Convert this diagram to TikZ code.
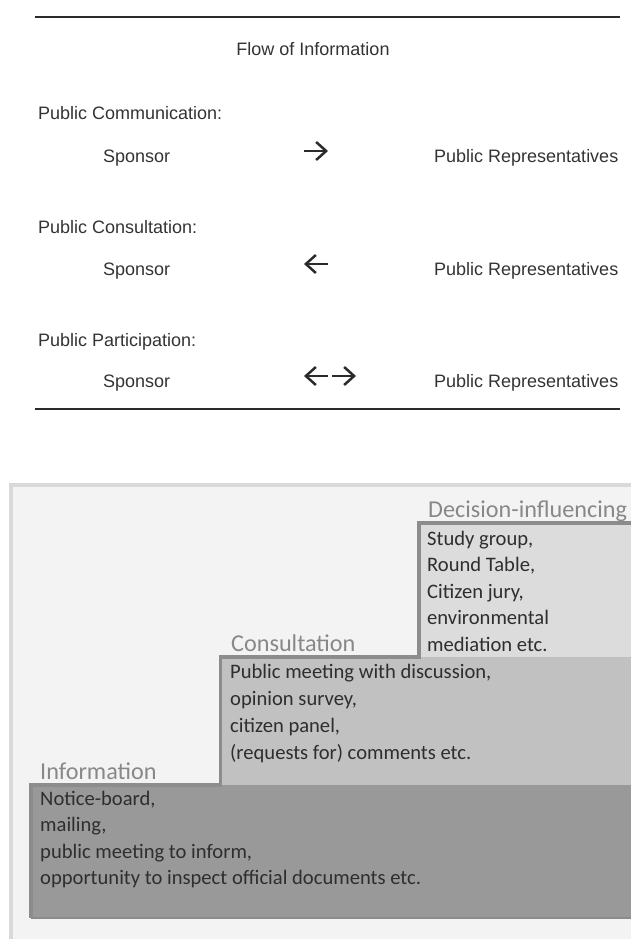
\documentclass[tikz,border=0pt]{standalone}
\usepackage{fontspec}
\setmainfont{Liberation Sans}
\newfontfamily\gillfont{Carlito}
\usetikzlibrary{arrows.meta}
\definecolor{rulegray}{HTML}{2B2B2B}
\definecolor{textgray}{HTML}{333333}
\definecolor{panelfill}{HTML}{F3F3F3}
\definecolor{panelline}{HTML}{D9D9D9}
\definecolor{decfill}{HTML}{DCDCDC}
\definecolor{confill}{HTML}{C1C1C1}
\definecolor{inffill}{HTML}{999999}
\definecolor{stepline}{HTML}{8C8C8C}
\definecolor{labelgray}{HTML}{888888}

\begin{document}
\begin{tikzpicture}[x=1pt,y=-1pt,
	toptext/.style={anchor=base west, inner sep=0pt, text=textgray, font=\fontsize{18}{21}\selectfont},
	steptext/.style={anchor=base west, inner sep=0pt, text=textgray!90!black, font=\gillfont\fontsize{20.6}{24}\selectfont},
	steplabel/.style={anchor=base west, inner sep=0pt, text=labelgray, font=\gillfont\fontsize{24.2}{29}\selectfont},
	flowarrow/.style={line width=2.5pt, rulegray, -{Straight Barb[length=10pt,width=18pt]}},
	toprule/.style={line width=2.5pt, rulegray}]
	\useasboundingbox (0,0) rectangle (631,939);
	% upper table
	\draw[toprule] (35,17) -- (620,17);
	\node[toptext, anchor=base] (flow) at (313,56) {Flow of Information};
	% public communication
	\node[toptext] (comm) at (38,120) {Public Communication:};
	\node[toptext] (spons1) at (103,162) {Sponsor};
	\node[toptext] (repr1) at (434,162) {Public Representatives};
	\coordinate (a1s) at (304,151);
	\coordinate (a1e) at (328,151);
	\draw[flowarrow] (a1s) -- (a1e);
	% public consultation
	\node[toptext] (cons) at (38,233) {Public Consultation:};
	\node[toptext] (spons2) at (103,275) {Sponsor};
	\node[toptext] (repr2) at (434,275) {Public Representatives};
	\coordinate (a2s) at (304,264);
	\coordinate (a2e) at (328,264);
	\draw[flowarrow] (a2e) -- (a2s);
	% public participation
	\node[toptext] (part) at (38,346) {Public Participation:};
	\node[toptext] (spons3) at (103,387) {Sponsor};
	\node[toptext] (repr3) at (434,387) {Public Representatives};
	\coordinate (a3s) at (304,376);
	\coordinate (a3m) at (328,376);
	\coordinate (a3n) at (332,376);
	\coordinate (a3e) at (356,376);
	\draw[flowarrow] (a3m) -- (a3s);
	\draw[flowarrow] (a3n) -- (a3e);
	\draw[toprule] (35,409) -- (620,409);
	% lower panel
	\fill[panelfill] (10.5,484.5) rectangle (631,939);
	\draw[panelline, line width=4pt] (10.5,939) -- (10.5,484.5) -- (631,484.5);
	% steps
	\fill[decfill] (419,523) rectangle (631,657);
	\fill[confill] (220.5,657) rectangle (631,785);
	\fill[inffill] (31,785) rectangle (631,918);
	\draw[stepline, line width=1.5pt] (31,918) -- (631,918);
	\draw[stepline, line width=3.5pt] (31,918) -- (31,785) -- (220.5,785) -- (220.5,657)
		-- (419,657) -- (419,523) -- (631,523);
	% step labels
	\node[steplabel] (info) at (40,779) {Information};
	\node[steplabel] (consl) at (231,651) {Consultation};
	\node[steplabel] (decis) at (428,517) {Decision-influencing};
	% information step
	\node[steptext] (inf1) at (40,805) {Notice-board,};
	\node[steptext] (inf2) at (40,831) {mailing,};
	\node[steptext] (inf3) at (40,858) {public meeting to inform,};
	\node[steptext] (inf4) at (40,884) {opportunity to inspect official documents etc.};
	% consultation step
	\node[steptext] (con1) at (230,678) {Public meeting with discussion,};
	\node[steptext] (con2) at (230,705) {opinion survey,};
	\node[steptext] (con3) at (230,732) {citizen panel,};
	\node[steptext] (con4) at (230,759) {(requests for) comments etc.};
	% decision-influencing step
	\node[steptext] (dec1) at (427,545) {Study group,};
	\node[steptext] (dec2) at (427,571) {Round Table,};
	\node[steptext] (dec3) at (427,598) {Citizen jury,};
	\node[steptext] (dec4) at (427,624) {environmental};
	\node[steptext] (dec5) at (427,651) {mediation etc.};
\end{tikzpicture}
\end{document}
